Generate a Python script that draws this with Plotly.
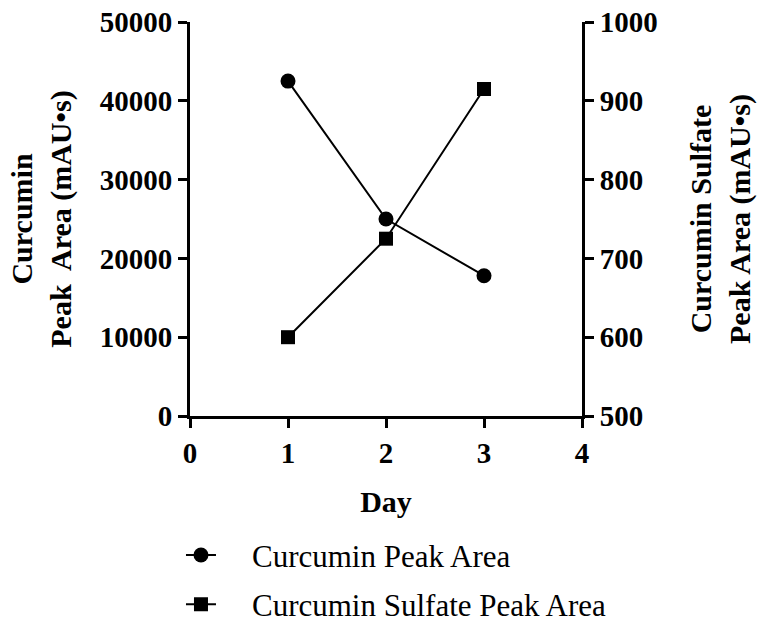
import plotly.graph_objects as go

# Peak areas measured on each day
days = [1, 2, 3]
curcumin_area = [42500, 25000, 17800]
sulfate_area = [600, 725, 915]

series_names = ["Curcumin Peak Area", "Curcumin Sulfate Peak Area"]

left_ticks = [0, 10000, 20000, 30000, 40000, 50000]
right_ticks = [500, 600, 700, 800, 900, 1000]
day_ticks = [0, 1, 2, 3, 4]

SERIF = "Liberation Serif"
tick_font = dict(family=SERIF, size=29, color="black", weight="bold")
title_font = dict(family=SERIF, size=30, color="black", weight="bold")

# an em space separates each legend symbol from its label
LEGEND_GAP = "\u2003"

fig = go.Figure()
fig.add_trace(go.Scatter(
    x=days, y=curcumin_area, name=LEGEND_GAP + series_names[0],
    legendgroup="curcumin",
    mode="lines+markers",
    line=dict(color="black", width=2),
    marker=dict(symbol="circle", size=15, color="black"),
    yaxis="y",
))
fig.add_trace(go.Scatter(
    x=days, y=sulfate_area, name=LEGEND_GAP + series_names[1],
    legendgroup="sulfate",
    mode="lines+markers",
    line=dict(color="black", width=2),
    marker=dict(symbol="square", size=14, color="black"),
    yaxis="y2",
))

axis_common = dict(
    showline=True, linecolor="black", linewidth=3,
    ticks="outside", ticklen=9, tickwidth=3, tickcolor="black",
    showgrid=False, zeroline=False, tickfont=tick_font,
    tickformat="d",
)

fig.update_layout(
    width=762, height=624,
    margin=dict(l=190, r=180, t=22, b=208, autoexpand=False),
    paper_bgcolor="white", plot_bgcolor="white",
    xaxis=dict(
        range=[0, 4], tickvals=day_ticks,
        title=dict(text="Day", font=title_font, standoff=24),
        **axis_common,
    ),
    yaxis=dict(
        range=[0, 50000], tickvals=left_ticks,
        title=dict(text="Curcumin<br>Peak  Area (mAU•s)", font=title_font, standoff=20),
        **axis_common,
    ),
    yaxis2=dict(
        range=[500, 1000], tickvals=right_ticks,
        overlaying="y", side="right",
        title=dict(text="Curcumin Sulfate<br>Peak Area (mAU•s)", font=title_font, standoff=34),
        **axis_common,
    ),
    legend=dict(
        x=-0.023, y=-0.285, xanchor="left", yanchor="top",
        font=dict(family=SERIF, size=31, color="black"),
        bgcolor="rgba(0,0,0,0)", tracegroupgap=6,
    ),
    showlegend=True,
)

fig.write_html("out.html")
